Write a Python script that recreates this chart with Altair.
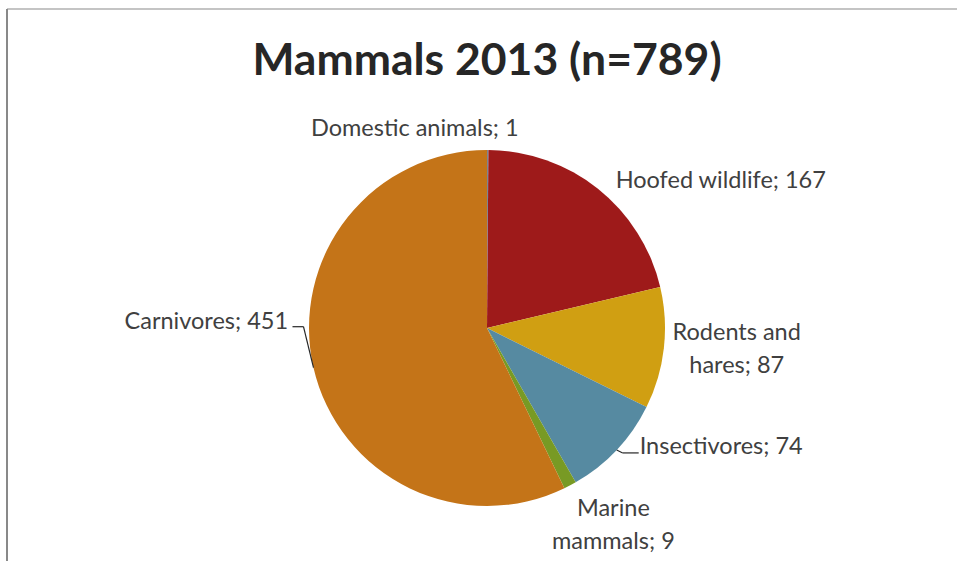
import altair as alt
import pandas as pd

# ---- data ----
categories = ["Domestic animals", "Hoofed wildlife", "Rodents and hares",
              "Insectivores", "Marine mammals", "Carnivores"]
values = [1, 167, 87, 74, 9, 451]
labels = ["Domestic animals; 1", "Hoofed wildlife; 167", "Rodents and\nhares; 87",
          "Insectivores; 74", "Marine\nmammals; 9", "Carnivores; 451"]
colors = ["#7D8793", "#9E1A1A", "#D09F12", "#568AA1", "#789A24", "#C47418"]
title_text = "Mammals 2013 (n=789)"

df = pd.DataFrame({"category": categories, "value": values,
                   "order": list(range(len(values))), "label": labels})

# ---- layout ----
W, H = 957, 561
CX, CY = 487, 328
R = 178
RL = 200
FONT = "Lato"
total = sum(values)

base = alt.Chart(df).transform_window(
    cum="sum(value)", sort=[{"field": "order"}], frame=[None, 0]
).transform_calculate(
    mid="datum.cum - datum.value / 2",
    ang=f"2 * PI * (datum.cum - datum.value / 2) / {total}",
).transform_calculate(
    ex=f"{CX} + {R} * sin(datum.ang)",
    ey=f"{CY} - {R} * cos(datum.ang)",
)

color_scale = alt.Scale(domain=categories, range=colors)
theta_scale = alt.Scale(domain=[0, total])

pie = alt.Chart(df).mark_arc(outerRadius=R).encode(
    theta=alt.Theta("value:Q", stack=True, scale=theta_scale),
    color=alt.Color("category:N", scale=color_scale, legend=None),
    order=alt.Order("order:Q"),
    x=alt.value(CX),
    y=alt.value(CY),
)


def label_layer(cat, align, dx, dy):
    return base.transform_filter(alt.datum.category == cat).mark_text(
        font=FONT, fontSize=23.5, color="#404040", align=align,
        baseline="middle", dx=dx, dy=dy, lineBreak="\n", lineHeight=33,
    ).encode(
        theta=alt.Theta("mid:Q", stack=None, scale=theta_scale),
        radius=alt.value(RL),
        text="label:N",
        x=alt.value(CX),
        y=alt.value(CY),
    )


label_layers = [
    label_layer("Domestic animals", "center", -73, 1),
    label_layer("Hoofed wildlife", "left", 4, 9),
    label_layer("Rodents and hares", "center", 51, -18),
    label_layer("Insectivores", "left", 7, -18),
    label_layer("Marine mammals", "center", 33, 4),
    label_layer("Carnivores", "right", -4, -51),
]


def leader(cat, ax, ay, bx):
    sub = base.transform_filter(alt.datum.category == cat).transform_calculate(
        kx=f"datum.ex + ({ax})", ky=f"datum.ey + ({ay})",
        hx=f"datum.ex + ({bx})",
    )
    seg1 = sub.mark_rule(color="#262626", strokeWidth=1.2).encode(
        x=alt.X("ex:Q", scale=None), y=alt.Y("ey:Q", scale=None),
        x2="kx:Q", y2="ky:Q",
    )
    seg2 = sub.mark_rule(color="#262626", strokeWidth=1.2).encode(
        x=alt.X("kx:Q", scale=None), y=alt.Y("ky:Q", scale=None),
        x2="hx:Q", y2="ky:Q",
    )
    return [seg1, seg2]


leaders = leader("Carnivores", -10, -41, -21) + leader("Insectivores", 6, 3, 22)

title = alt.Chart(pd.DataFrame({"t": [title_text]})).mark_text(
    font=FONT, fontSize=44.5, fontWeight="bold", color="#262626",
    align="center", baseline="alphabetic",
).encode(text="t:N", x=alt.value(CX), y=alt.value(75))

frame_top = alt.Chart(pd.DataFrame({"a": [0]})).mark_rule(
    color="#898989", strokeWidth=1.2
).encode(x=alt.value(7), x2=alt.value(W), y=alt.value(9))
frame_left = alt.Chart(pd.DataFrame({"a": [0]})).mark_rule(
    color="#898989", strokeWidth=2
).encode(x=alt.value(7), y=alt.value(9), y2=alt.value(H))

chart = alt.layer(
    frame_top, frame_left, pie, *leaders, *label_layers, title
).properties(
    width=W, height=H, padding=0, background="white",
    autosize=alt.AutoSizeParams(type="none"),
).configure_view(stroke=None)

chart.save("out.html", embed_options={"renderer": "svg", "actions": False})
